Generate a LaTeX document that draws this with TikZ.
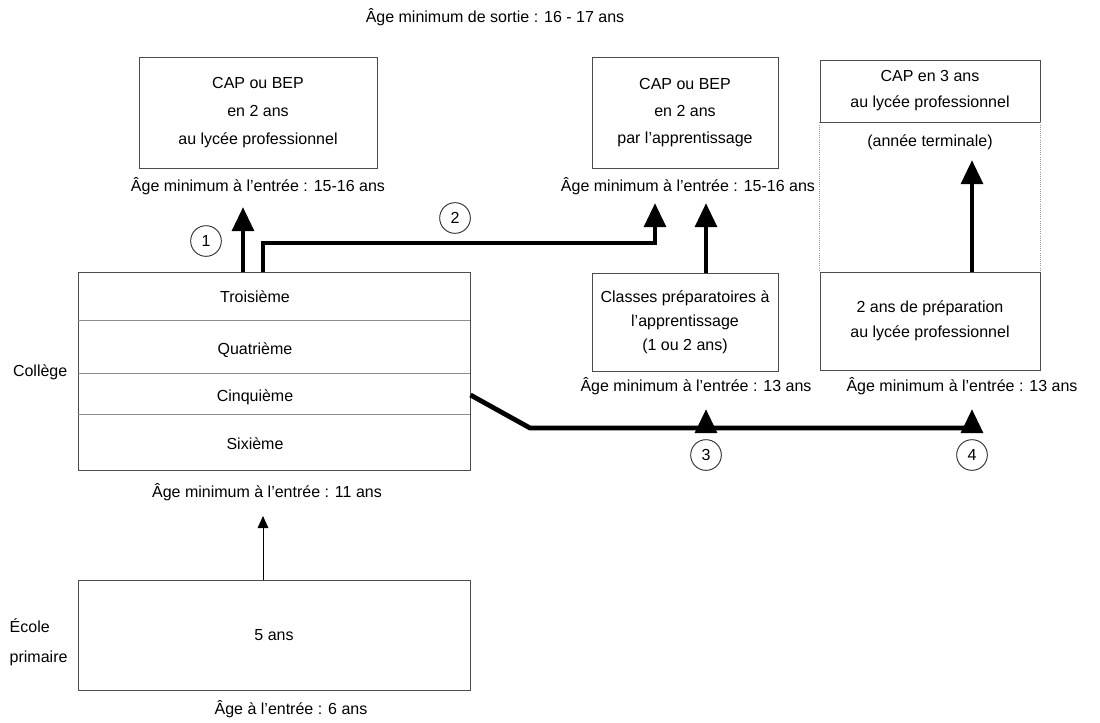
\documentclass[tikz,border=0pt]{standalone}
\usepackage{fontspec}
\setmainfont{Liberation Sans}
\usetikzlibrary{arrows.meta}

\begin{document}
\begin{tikzpicture}[x=0.75pt, y=-0.75pt, font=\fontsize{12}{14}\selectfont,
	boite/.style={draw=black!70, line width=0.7pt, align=center},
	ligne/.style={draw=black!45, line width=0.7pt},
	pointille/.style={draw=black!40, line width=0.6pt, densely dotted},
	fleche/.style={line width=3.6pt, -{Triangle[length=18pt, width=16pt]}},
	epais/.style={line width=3.6pt, line join=round},
	rond/.style={circle, draw=black!80, line width=0.7pt, minimum size=23pt, inner sep=0pt}]

	\useasboundingbox (0,0) rectangle (1100,722);

	\node (sortie) at (495,17) {Âge minimum de sortie : 16 - 17 ans};

	% boites du haut
	\node[boite, minimum width=178.5pt, minimum height=83.25pt, font=\fontsize{12}{21}\selectfont] (lycee) at (258,112.5) {CAP ou BEP\\en 2 ans\\au lycée professionnel};
	\node (entree1) at (258,186) {Âge minimum à l'entrée : 15-16 ans};
	\node[boite, minimum width=139.5pt, minimum height=83.25pt, font=\fontsize{12}{20.5}\selectfont] (appr) at (685,112.5) {CAP ou BEP\\en 2 ans\\par l'apprentissage};
	\node (entree2) at (688,186) {Âge minimum à l'entrée : 15-16 ans};
	\node[boite, minimum width=165pt, minimum height=46.5pt, font=\fontsize{12}{19.5}\selectfont] (cap3) at (930,91) {CAP en 3 ans\\au lycée professionnel};
	\node (terminale) at (930,142) {(année terminale)};

	% boites du milieu
	\node[boite, minimum width=139.5pt, minimum height=73.5pt, font=\fontsize{12}{18}\selectfont] (prep) at (685,322) {Classes préparatoires à\\l'apprentissage\\(1 ou 2 ans)};
	\node (entree3) at (696,386) {Âge minimum à l'entrée : 13 ans};
	\node[boite, minimum width=165pt, minimum height=73.5pt, font=\fontsize{12}{19}\selectfont] (prlp) at (930,321) {2 ans de préparation\\au lycée professionnel};
	\node (entree4) at (962,386) {Âge minimum à l'entrée : 13 ans};
	\draw[pointille] (cap3.south west) -- (prlp.north west);
	\draw[pointille] (cap3.south east) -- (prlp.north east);

	% college
	\node[boite, minimum width=294pt, minimum height=148.5pt] (college) at (274,371) {};
	\draw[ligne] (78,320) -- (470,320);
	\draw[ligne] (78,373) -- (470,373);
	\draw[ligne] (78,414) -- (470,414);
	\node (troisieme) at (255,297) {Troisième};
	\node (quatrieme) at (255,350) {Quatrième};
	\node (cinquieme) at (255,397) {Cinquième};
	\node (sixieme) at (255,444) {Sixième};
	\node[anchor=east] (coll) at (72,372) {Collège};
	\node (entree5) at (267,492) {Âge minimum à l'entrée : 11 ans};

	% ecole primaire
	\node[boite, minimum width=294pt, minimum height=82.5pt] (primaire) at (274,635) {5 ans};
	\node[anchor=west, align=left, font=\fontsize{12}{22.5}\selectfont] (ecole) at (5,642) {École\\primaire};
	\node (entree6) at (291,709) {Âge à l'entrée : 6 ans};

	% fleches
	\coordinate (f1) at (243,207);
	\coordinate (c2) at (263,243);
	\coordinate (f2) at (655,203);
	\coordinate (f3) at (706,203);
	\coordinate (f4) at (972,160);
	\coordinate (k) at (530,428);
	\coordinate (t3) at (706,409);
	\coordinate (t4) at (972,409);
	\coordinate (f5) at (263,516);
	\draw[fleche] (college.north -| f1) -- (f1);
	\draw[fleche] (college.north -| c2) -- (c2) -- (c2 -| f2) -- (f2);
	\draw[fleche] (prep.north -| f3) -- (f3);
	\draw[fleche] (prlp.north -| f4) -- (f4);
	\draw[epais] ([yshift=-18pt]college.east) -- (k) -- (k -| t4);
	\draw[fleche] (k -| t3) -- (t3);
	\draw[fleche] (k -| t4) -- (t4);
	\draw[-{Triangle[length=9pt, width=8pt]}, line width=0.7pt] (primaire.north -| f5) -- (f5);

	% numeros
	\node[rond] (n1) at (206,241) {1};
	\node[rond] (n2) at (455,218) {2};
	\node[rond] (n3) at (706,455) {3};
	\node[rond] (n4) at (972,455) {4};
\end{tikzpicture}
\end{document}
